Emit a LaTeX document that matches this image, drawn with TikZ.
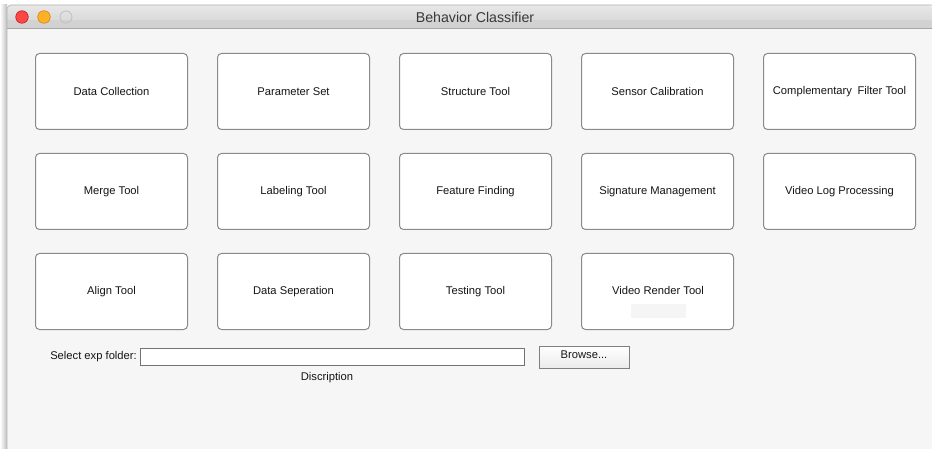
\documentclass[tikz,border=0pt]{standalone}
\usepackage{fontspec}
\setmainfont{Liberation Sans}
\definecolor{winbg}{HTML}{F6F6F6}
\definecolor{btnborder}{HTML}{8A8A8A}
\definecolor{txt}{HTML}{151515}
\definecolor{tbtop}{HTML}{E8E8E8}
\definecolor{tbbot}{HTML}{D2D2D2}
\definecolor{tred}{HTML}{FC4747}
\definecolor{tyel}{HTML}{FDB124}
\begin{document}
\begin{tikzpicture}[x=1pt,y=-1pt,
  btn/.style={draw=btnborder,line width=1pt,fill=white,rounded corners=4pt,minimum width=152pt,minimum height=76pt,inner sep=0pt,font=\fontsize{11.2}{13}\selectfont,text=txt,anchor=north west},
  lbl/.style={font=\fontsize{11.2}{13}\selectfont,text=txt,inner sep=0pt}]
\useasboundingbox (0,0) rectangle (932,449);
\fill[white] (0,0) rectangle (932,449);
% left shadow
\shade[left color=white,right color=black!25] (0,5) rectangle (7,449);
% window
\fill[winbg] (7,5) rectangle (932,449);
\shade[top color=tbtop,bottom color=tbbot,rounded corners=4pt] (7,5) rectangle (932,28);
\fill[tbbot] (7,20) rectangle (932,28);
\draw[black!35,line width=1pt] (7,28.5) -- (932,28.5);
\draw[black!30,line width=0.6pt] (7,449) -- (7,9) arc[start angle=180,end angle=270,radius=4] -- (932,5);
\fill[tred,draw=red!70!black,line width=0.4pt] (22,17) circle (6.3);
\fill[tyel,draw=orange!80!black,line width=0.4pt] (44,17) circle (6.3);
\draw[black!25,line width=0.8pt] (66,17) circle (6);
\node[font=\fontsize{14.2}{16}\selectfont,text=black!78] (title) at (475,17.5) {Behavior Classifier};
% buttons
\node[btn] (b11) at (35,53) {Data Collection};
\node[btn] (b12) at (217,53) {Parameter Set};
\node[btn] (b13) at (399,53) {Structure Tool};
\node[btn] (b14) at (581,53) {Sensor Calibration};
\node[btn] (b15) at (763,53) {Complementary\enspace Filter Tool};
\node[btn] (b21) at (35,153) {Merge Tool};
\node[btn] (b22) at (217,153) {Labeling Tool};
\node[btn] (b23) at (399,153) {Feature Finding};
\node[btn] (b24) at (581,153) {Signature Management};
\node[btn] (b25) at (763,153) {Video Log Processing};
\node[btn] (b31) at (35,253) {Align Tool};
\node[btn] (b32) at (217,253) {Data Seperation};
\node[btn] (b33) at (399,253) {Testing Tool};
\node[btn] (b34) at (581,253) {};
\node[lbl] (vr) at (658,290) {Video Render Tool};
\fill[black!4] (631,304) rectangle (686,318);
% bottom controls
\node[lbl,anchor=east] (sel) at (137,356.5) {Select exp folder:};
\draw[black!55,line width=1pt,fill=white] (140,348) rectangle (524,365);
\node (field) at (332,356.5) {};
\shade[top color=white,bottom color=black!8,draw=black!50,line width=1pt] (539,346) rectangle (629,368);
\node[lbl] (browse) at (584,355) {Browse...};
\node[lbl] (disc) at (327,378) {Discription};
\end{tikzpicture}
\end{document}
